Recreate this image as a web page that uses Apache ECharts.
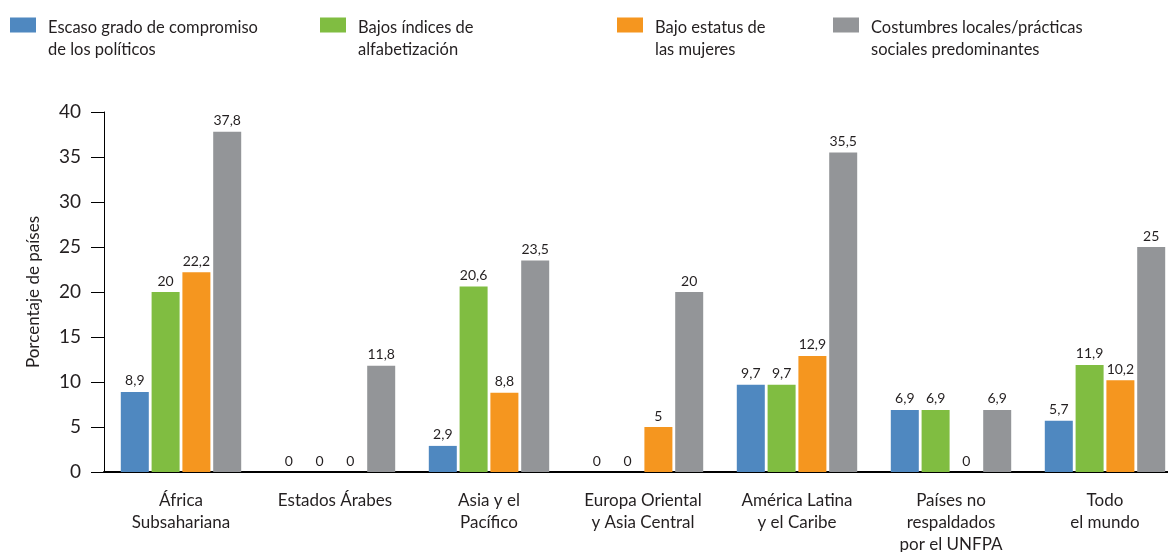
<!DOCTYPE html>
<html>
<head>
<meta charset="utf-8">
<script src="https://cdn.jsdelivr.net/npm/echarts@6/dist/echarts.min.js"></script>
<style>
  html, body { margin: 0; padding: 0; background: #fff; overflow: hidden; }
  #chart { width: 1182px; height: 552px; }
</style>
</head>
<body>
<div id="chart"></div>
<script>
// Regions (x-axis categories)
const regions = [
  'África\nSubsahariana',
  'Estados Árabes',
  'Asia y el\nPacífico',
  'Europa Oriental\ny Asia Central',
  'América Latina\ny el Caribe',
  'Países no\nrespaldados\npor el UNFPA',
  'Todo\nel mundo'
];

// Series names
const seriesNames = [
  'Escaso grado de compromiso\nde los políticos',
  'Bajos índices de\nalfabetización',
  'Bajo estatus de\nlas mujeres',
  'Costumbres locales/prácticas\nsociales predominantes'
];

// Percentage of countries per region
const politicos      = [8.9, 0, 2.9, 0, 9.7, 6.9, 5.7];
const alfabetizacion = [20, 0, 20.6, 0, 9.7, 6.9, 11.9];
const mujeres        = [22.2, 0, 8.8, 5, 12.9, 0, 10.2];
const costumbres     = [37.8, 11.8, 23.5, 20, 35.5, 6.9, 25];

// Y-axis ticks
const yTicks = [0, 5, 10, 15, 20, 25, 30, 35, 40];

const colors = ['#4f88c0', '#80bd41', '#f5961f', '#939598'];
const FONT = 'Lato';
const TEXT = '#231f20';

const values = [politicos, alfabetizacion, mujeres, costumbres];
const legendLeft = [10, 320, 617, 833];

// Legend swatch: a 26x15 block aligned with the first of two text lines
const swatch = 'path://M0,0L0,0.01M0,0.5H26V15.5H0ZM0,44L0,43.99';

const chart = echarts.init(document.getElementById('chart'));
chart.setOption({
  animation: false,
  textStyle: { fontFamily: FONT },
  legend: seriesNames.map((name, i) => ({
    data: [name],
    left: legendLeft[i],
    top: 17,
    padding: 0,
    itemWidth: 26,
    itemHeight: 44,
    itemGap: 0,
    icon: swatch,
    textStyle: { fontFamily: FONT, fontSize: 16.5, color: TEXT, lineHeight: 22, padding: [0, 0, 0, 7] },
    selectedMode: false
  })),
  grid: { left: 104, right: 0, top: 112, bottom: 80, outerBoundsMode: 'none' },
  xAxis: {
    type: 'category',
    data: regions,
    axisLine: { lineStyle: { color: '#000', width: 2 } },
    axisTick: { show: false },
    axisLabel: { fontFamily: FONT, fontSize: 17, color: TEXT, lineHeight: 22, margin: 18, interval: 0 }
  },
  yAxis: {
    type: 'value',
    min: yTicks[0],
    max: yTicks[yTicks.length - 1],
    interval: 5,
    name: 'Porcentaje de países',
    nameLocation: 'middle',
    nameGap: 62,
    nameTextStyle: { fontFamily: FONT, fontSize: 17, color: TEXT },
    axisLine: { show: true, lineStyle: { color: '#000', width: 1 } },
    axisTick: { show: true, length: 13, lineStyle: { color: '#000' } },
    axisLabel: { fontFamily: FONT, fontSize: 19, color: TEXT, margin: 23 },
    splitLine: { show: false }
  },
  series: values.map((data, i) => ({
    name: seriesNames[i],
    type: 'bar',
    data: data,
    barWidth: 28,
    barGap: '10%',
    itemStyle: { color: colors[i] },
    label: {
      show: true,
      position: 'top',
      distance: 4,
      fontFamily: FONT,
      fontSize: 14,
      color: TEXT,
      formatter: p => String(p.value).replace('.', ',')
    }
  }))
});
</script>
</body>
</html>
